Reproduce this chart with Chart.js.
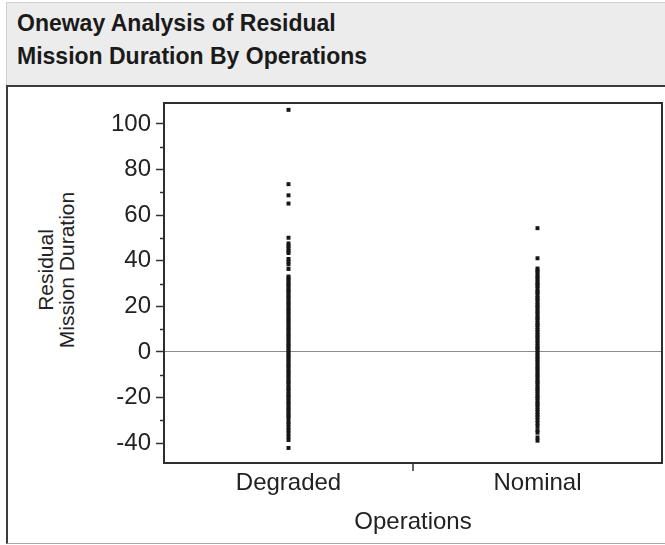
<!DOCTYPE html>
<html>
<head>
<meta charset="utf-8">
<script src="https://cdn.jsdelivr.net/npm/chart.js@4/dist/chart.umd.min.js"></script>
<style>
  html, body { margin: 0; padding: 0; background: #fff; width: 665px; height: 545px; overflow: hidden; position: relative;
    font-family: "Liberation Sans", Arial, sans-serif; }
  #head { position: absolute; left: 6px; top: 2px; width: 659px; height: 83px; background: #ececec;
    border-top: 1px solid #cfcfcf; border-left: 1px solid #cfcfcf; box-sizing: border-box; }
  #head .t { position: absolute; left: 10px; font-weight: bold; font-size: 23px; line-height: 23px; color: #1a1a1a; white-space: nowrap; }
  #rule { position: absolute; left: 6px; top: 85px; width: 659px; height: 2px; background: #3c3c3c; }
  #frame { position: absolute; left: 6px; top: 87px; width: 659px; height: 457px; box-sizing: border-box;
    border-left: 2px solid #3c3c3c; border-bottom: 1px solid #a8a8a8; }
  .ytitle { position: absolute; font-size: 21px; line-height: 21px; color: #222; white-space: nowrap;
    transform: translate(-50%, -50%) rotate(-90deg); }
  #chart { position: absolute; left: 0; top: 0; }
</style>
</head>
<body>
<div id="head">
  <div class="t" style="top:9px">Oneway Analysis of Residual</div>
  <div class="t" style="top:42px">Mission Duration By Operations</div>
</div>
<div id="rule"></div>
<div id="frame"></div>
<div class="ytitle" style="left:45px; top:270px">Residual</div>
<div class="ytitle" style="left:66px; top:270px">Mission Duration</div>
<canvas id="chart" width="665" height="545"></canvas>
<script>
// Operations groups and residual mission durations for each group
const categories = ['Degraded', 'Nominal'];

const degradedResiduals = [
  106.2, 73.6, 68.7, 65.1, 50.1, 47.6, 46.5, 45.4, 44.3, 43.4, 40.8, 39.6, 38.4, 36.4,
  33.1, 32.2, 31.4, 30.3, 29.5, 28.6, 27.4, 26.7, 25.8, 24.6, 23.9, 22.8, 21.7, 20.9,
  19.8, 18.7, 17.9, 16.8, 15.9, 14.7, 13.8, 12.9, 11.8, 10.7, 9.9, 8.8, 7.7, 6.9, 5.8,
  4.9, 3.7, 2.8, 1.9, 0.7, -0.2, -1.3, -2.1, -3.2, -4.1, -5.3, -6.1, -7.2, -8.3, -9.1,
  -10.2, -11.1, -12.3, -13.2, -14.1, -15.3, -16.2, -17.1, -18.3, -19.2, -20.1, -21.3,
  -22.2, -23.1, -24.3, -25.2, -26.1, -27.3, -28.2, -29.1, -30.6, -31.8, -33.2, -34.4,
  -35.7, -37.1, -38.6, -42.1
];

const nominalResiduals = [
  54.3, 41.1, 36.6, 35.7, 34.8, 33.6, 32.7, 31.8, 30.6, 29.7, 28.9, 27.8, 26.6, 25.9,
  24.8, 23.7, 22.9, 21.8, 20.6, 19.9, 18.8, 17.7, 16.9, 15.6, 14.8, 13.9, 12.7, 11.8,
  10.9, 9.7, 8.8, 7.6, 6.8, 5.9, 4.7, 3.8, 2.6, 1.8, 0.9, -0.3, -1.2, -2.3, -3.1, -4.2,
  -5.1, -6.3, -7.2, -8.1, -9.3, -10.2, -11.1, -12.3, -13.2, -14.1, -15.3, -16.2, -17.1,
  -18.2, -19.3, -20.1, -21.2, -22.3, -23.1, -24.2, -25.3, -26.4, -27.6, -28.6, -29.9,
  -31.2, -32.6, -34.3, -35.4, -37.5, -38.9
];

const groupValues = [degradedResiduals, nominalResiduals];

// Residual axis: range, step between tick marks, step between labels
const yRange = [-48.7, 109.2];
const yTickStep = 10;
const yLabelStep = 20;

const FONT = '"Liberation Sans", Arial, sans-serif';
const INK = '#222';

// Frame around the plot, short minor ticks and the divider tick between groups
const framePlugin = {
  id: 'plotFrame',
  afterDraw(chart) {
    const { ctx, chartArea: a, scales: { x, y } } = chart;
    ctx.save();
    ctx.strokeStyle = '#333';
    ctx.lineWidth = 1.5;
    ctx.beginPath();
    y.ticks.forEach(t => {
      if (t.value % yLabelStep !== 0) {
        const py = Math.round(y.getPixelForValue(t.value)) + 0.5;
        ctx.moveTo(a.left - 4, py);
        ctx.lineTo(a.left, py);
      }
    });
    const px = Math.round(x.getPixelForValue(1));
    ctx.moveTo(px, a.bottom);
    ctx.lineTo(px, a.bottom + 8);
    ctx.stroke();
    ctx.lineWidth = 2;
    ctx.strokeStyle = '#2e2e2e';
    ctx.strokeRect(a.left, a.top, a.right - a.left, a.bottom - a.top);
    ctx.restore();
  }
};

new Chart(document.getElementById('chart'), {
  type: 'scatter',
  data: {
    datasets: groupValues.map((vals, i) => ({
      label: categories[i],
      data: vals.map(v => ({ x: i + 0.5, y: v })),
      pointStyle: 'rect',
      pointRadius: 2.8,
      pointHoverRadius: 2.8,
      backgroundColor: '#161616',
      borderWidth: 0
    }))
  },
  options: {
    responsive: false,
    animation: false,
    events: [],
    layout: { padding: { left: 0, top: 103, right: 3, bottom: 0 } },
    plugins: { legend: { display: false }, tooltip: { enabled: false } },
    scales: {
      x: {
        type: 'linear',
        min: 0,
        max: categories.length,
        afterFit(s) { s.height = 82; },
        afterBuildTicks(s) { s.ticks = categories.map((c, i) => ({ value: i + 0.5 })); },
        ticks: {
          autoSkip: false,
          maxRotation: 0,
          padding: 6,
          color: INK,
          font: { family: FONT, size: 24 },
          callback: (v) => categories[Math.round(v - 0.5)]
        },
        grid: { display: false, drawTicks: false },
        border: { display: false },
        title: {
          display: true,
          text: 'Operations',
          color: INK,
          font: { family: FONT, size: 24 },
          padding: { top: 0, bottom: 8 }
        }
      },
      y: {
        type: 'linear',
        min: yRange[0],
        max: yRange[1],
        afterFit(s) { s.width = 164; },
        ticks: {
          stepSize: yTickStep,
          includeBounds: false,
          autoSkip: false,
          padding: 5,
          color: INK,
          font: { family: FONT, size: 24 },
          callback: (v) => (v % yLabelStep === 0 ? String(v) : '')
        },
        grid: {
          drawOnChartArea: true,
          color: (c) => (c.tick && c.tick.value === 0 ? '#8c8c8c' : 'rgba(0,0,0,0)'),
          lineWidth: 1,
          drawTicks: true,
          tickLength: 8,
          tickWidth: 1.5,
          tickColor: (c) => (c.tick && c.tick.value % yLabelStep === 0 ? '#333' : 'rgba(0,0,0,0)')
        },
        border: { display: false },
        title: { display: false }
      }
    }
  },
  plugins: [framePlugin]
});
</script>
</body>
</html>
